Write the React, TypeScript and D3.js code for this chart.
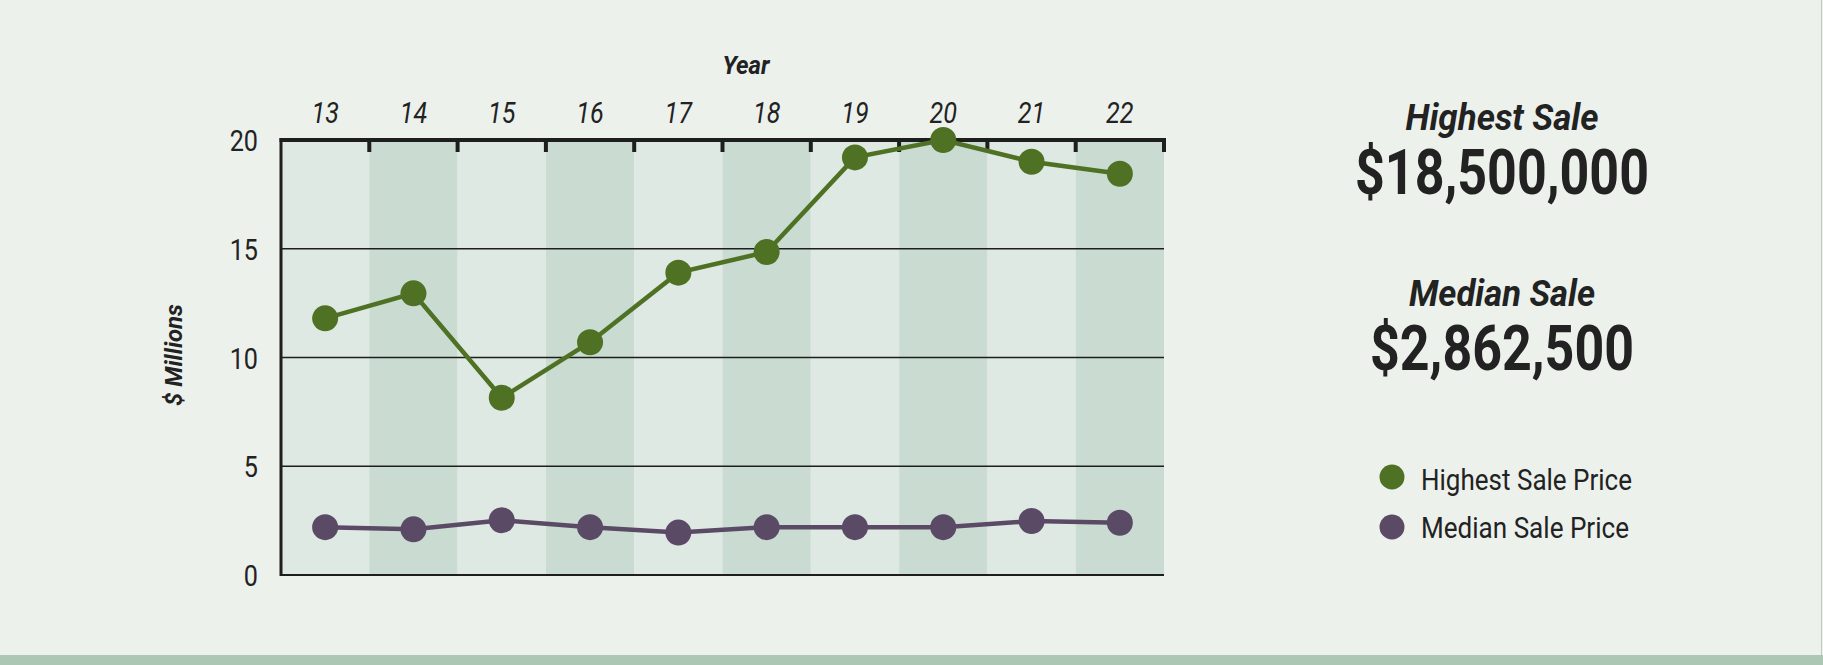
import React from 'react';
import * as d3 from 'd3';

const years = ['13', '14', '15', '16', '17', '18', '19', '20', '21', '22'];
const highestSale = [11.8, 12.95, 8.15, 10.7, 13.9, 14.85, 19.2, 20.0, 19.0, 18.45];
const medianSale = [2.2, 2.1, 2.52, 2.2, 1.95, 2.2, 2.2, 2.2, 2.48, 2.4];
const yTicks = [0, 5, 10, 15, 20];
const legendItems = ['Highest Sale Price', 'Median Sale Price'];
const statLabels = ['Highest Sale', 'Median Sale'];
const statValues = ['$18,500,000', '$2,862,500'];

const W = 1823;
const H = 665;
const GREEN = '#4f7124';
const PURPLE = '#5b4a66';
const FONT = 'Roboto, sans-serif';

// squeeze plain Roboto a bit so it reads like the condensed face
const Cond = ({ x, y, anchor = 'middle', size, weight = 400, italic = false, children }: any) => (
  <g transform={`translate(${x},${y}) scale(0.84,1)`}>
    <text textAnchor={anchor} fontFamily={FONT} fontSize={size} fontWeight={weight}
      fontStyle={italic ? 'italic' : 'normal'} fill="#222">{children}</text>
  </g>
);

const App = () => {
  const x = d3.scaleBand().domain(years).range([281, 1164]).padding(0);
  const y = d3.scaleLinear().domain([0, 20]).range([575, 140]);
  const cx = (d: string) => (x(d) as number) + x.bandwidth() / 2;
  const [x0, x1] = x.range();

  const line = d3.line<number>()
    .x((_, i) => cx(years[i]))
    .y(d => y(d));

  const series = [
    { values: highestSale, color: GREEN },
    { values: medianSale, color: PURPLE },
  ];

  return (
    <svg width={W} height={H} style={{ position: 'fixed', left: 0, top: 0, display: 'block' }}>
      <rect x={0} y={0} width={W} height={H} fill="#ecf1ec" />
      <rect x={0} y={655} width={W} height={10} fill="#acc8b4" />
      <line x1={W - 1.5} x2={W - 1.5} y1={0} y2={655} stroke="#c4c8c4" strokeWidth={1} />

      {/* alternating year bands */}
      {years.map((d, i) => (
        <rect key={d} x={x(d)} y={y(20)} width={x.bandwidth()} height={y(0) - y(20)}
          fill={i % 2 === 0 ? '#dfe9e3' : '#cadcd2'} />
      ))}

      {/* gridlines */}
      {yTicks.filter(t => t > 0 && t < 20).map(t => (
        <line key={t} x1={x0} x2={x1} y1={y(t)} y2={y(t)} stroke="#1e1e1e" strokeWidth={1.3} />
      ))}
      <line x1={x0} x2={x1} y1={y(0)} y2={y(0)} stroke="#1e1e1e" strokeWidth={2} />
      <line x1={x0} x2={x0} y1={y(20) - 2} y2={y(0) + 1} stroke="#1e1e1e" strokeWidth={3} />
      <line x1={x0 - 1.5} x2={x1 + 2} y1={y(20)} y2={y(20)} stroke="#1e1e1e" strokeWidth={4} />
      {years.slice(1).concat(['end']).map(d => {
        const xx = d === 'end' ? x1 : (x(d) as number);
        return <line key={d} x1={xx} x2={xx} y1={y(20)} y2={y(20) + 12} stroke="#1e1e1e" strokeWidth={4} />;
      })}

      {/* y tick labels */}
      {yTicks.map(t => (
        <Cond key={t} x={258} y={y(t) + 11} anchor="end" size={30}>{t}</Cond>
      ))}

      {/* year labels */}
      {years.map(d => (
        <Cond key={d} x={cx(d)} y={123} size={30} italic>{d}</Cond>
      ))}
      <text x={746} y={74} textAnchor="middle" fontFamily={FONT} fontSize={26} fontWeight={700}
        fontStyle="italic" fill="#222" textLength={47} lengthAdjust="spacingAndGlyphs">Year</text>
      <text transform="translate(182,355) rotate(-90)" textAnchor="middle" fontFamily={FONT} fontSize={24}
        fontWeight={700} fontStyle="italic" fill="#222" textLength={102} lengthAdjust="spacingAndGlyphs">$ Millions</text>

      {/* series */}
      {series.map((s, k) => (
        <g key={k}>
          <path d={line(s.values) as string} fill="none" stroke={s.color} strokeWidth={4.5} />
          {s.values.map((v, i) => (
            <circle key={i} cx={cx(years[i])} cy={y(v)} r={13} fill={s.color} />
          ))}
        </g>
      ))}

      {/* summary */}
      {statLabels.map((lab, i) => (
        <g key={lab}>
          <text x={1502} y={i === 0 ? 130 : 306} textAnchor="middle" fontFamily={FONT} fontSize={36}
            fontWeight={700} fontStyle="italic" fill="#222" textLength={i === 0 ? 193 : 186}
            lengthAdjust="spacingAndGlyphs">{lab}</text>
          <text x={1502} y={i === 0 ? 194 : 370} textAnchor="middle" fontFamily={FONT} fontSize={63}
            fontWeight={700} fill="#222" textLength={i === 0 ? 294 : 264}
            lengthAdjust="spacingAndGlyphs">{statValues[i]}</text>
        </g>
      ))}

      {/* legend */}
      {legendItems.map((lab, i) => (
        <g key={lab}>
          <circle cx={1392} cy={477 + i * 50} r={12.5} fill={series[i].color} />
          <text x={1421} y={490 + i * 48} fontFamily={FONT} fontSize={29} fill="#222"
            textLength={i === 0 ? 211 : 208} lengthAdjust="spacingAndGlyphs">{lab}</text>
        </g>
      ))}
    </svg>
  );
};

export default App;
